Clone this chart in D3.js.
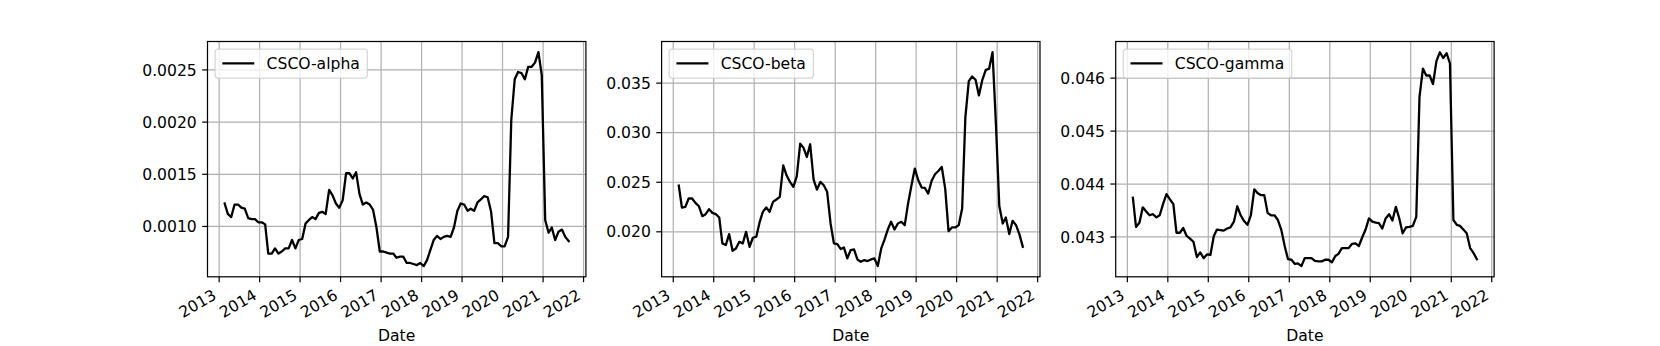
<!DOCTYPE html>
<html>
<head>
<meta charset="utf-8">
<script src="https://cdn.jsdelivr.net/npm/d3@7"></script>
<style>
  body { margin: 0; background: #fff; }
  svg { display: block; font-family: "DejaVu Sans", sans-serif; }
</style>
</head>
<body>
<div id="chart"></div>
<script>
// monthly values, Feb 2013 .. Aug 2021
var alpha = [
  0.00122, 0.00112, 0.00109, 0.00121, 0.00121, 0.00118, 0.00117, 0.00108, 0.00107, 0.00107, 0.00104,
  0.00104, 0.00102, 0.00074, 0.00074, 0.00079, 0.00074, 0.00076, 0.00079, 0.00079, 0.00087, 0.00079, 0.00087,
  0.00088, 0.00103, 0.00106, 0.00109, 0.00107, 0.00113, 0.00114, 0.00112, 0.00135, 0.00130, 0.00122, 0.00118,
  0.00125, 0.00151, 0.00151, 0.00146, 0.00152, 0.00131, 0.00121, 0.00123, 0.00121, 0.00116, 0.00099, 0.00076,
  0.00076, 0.00075, 0.00074, 0.00074, 0.00070, 0.00071, 0.00071, 0.00065, 0.00065, 0.00064, 0.00063, 0.00065,
  0.00062, 0.00068, 0.00077, 0.00087, 0.00091, 0.00088, 0.00090, 0.00091, 0.00090, 0.00099, 0.00115, 0.00122,
  0.00121, 0.00115, 0.00117, 0.00115, 0.00123, 0.00126, 0.00129, 0.00128, 0.00114, 0.00084, 0.00084, 0.00081,
  0.00081, 0.00090, 0.00202, 0.00241, 0.00248, 0.00247, 0.00241, 0.00253, 0.00253, 0.00257, 0.00267, 0.00245,
  0.00106, 0.00094, 0.00099, 0.00087, 0.00095, 0.00097, 0.00090, 0.00086
];
var beta = [
  0.02466, 0.02245, 0.02252, 0.02336, 0.02336, 0.02292, 0.02258, 0.02158, 0.02178, 0.02228, 0.02191,
  0.02178, 0.02144, 0.01883, 0.01866, 0.01977, 0.01809, 0.01832, 0.01899, 0.01883, 0.02000, 0.01849, 0.01940,
  0.01950, 0.02101, 0.02201, 0.02245, 0.02201, 0.02302, 0.02326, 0.02352, 0.02671, 0.02570, 0.02503, 0.02453,
  0.02560, 0.02889, 0.02849, 0.02755, 0.02883, 0.02527, 0.02426, 0.02503, 0.02470, 0.02403, 0.02084, 0.01883,
  0.01876, 0.01826, 0.01842, 0.01732, 0.01815, 0.01822, 0.01721, 0.01698, 0.01715, 0.01705, 0.01721, 0.01732,
  0.01654, 0.01832, 0.01916, 0.02023, 0.02101, 0.02023, 0.02084, 0.02101, 0.02067, 0.02285, 0.02470, 0.02638,
  0.02520, 0.02446, 0.02443, 0.02386, 0.02513, 0.02581, 0.02614, 0.02654, 0.02436, 0.02007, 0.02044, 0.02044,
  0.02067, 0.02235, 0.03158, 0.03520, 0.03567, 0.03534, 0.03376, 0.03534, 0.03634, 0.03644, 0.03812, 0.03100,
  0.02260, 0.02084, 0.02144, 0.01977, 0.02111, 0.02067, 0.01977, 0.01849
];
var gamma = [
  0.04374, 0.04319, 0.04327, 0.04356, 0.04348, 0.04341, 0.04343, 0.04337, 0.04341, 0.04363, 0.04381,
  0.04371, 0.04362, 0.04308, 0.04308, 0.04317, 0.04302, 0.04297, 0.04291, 0.04262, 0.04271, 0.04260, 0.04267,
  0.04266, 0.04302, 0.04314, 0.04313, 0.04312, 0.04316, 0.04318, 0.04329, 0.04358, 0.04341, 0.04330, 0.04323,
  0.04341, 0.04390, 0.04383, 0.04379, 0.04379, 0.04345, 0.04341, 0.04341, 0.04332, 0.04314, 0.04283, 0.04258,
  0.04257, 0.04249, 0.04250, 0.04245, 0.04260, 0.04260, 0.04260, 0.04255, 0.04254, 0.04254, 0.04257, 0.04257,
  0.04252, 0.04264, 0.04268, 0.04279, 0.04279, 0.04279, 0.04287, 0.04288, 0.04283, 0.04299, 0.04314, 0.04335,
  0.04329, 0.04327, 0.04326, 0.04316, 0.04335, 0.04343, 0.04331, 0.04357, 0.04335, 0.04307, 0.04318, 0.04319,
  0.04321, 0.04338, 0.04564, 0.04618, 0.04605, 0.04605, 0.04589, 0.04632, 0.04649, 0.04638, 0.04647, 0.04628,
  0.04332, 0.04323, 0.04321, 0.04314, 0.04307, 0.04279, 0.04270, 0.04258
];
var seriesNames = ["CSCO-alpha", "CSCO-beta", "CSCO-gamma"];
var yTicks = [
  [0.0010, 0.0015, 0.0020, 0.0025],
  [0.020, 0.025, 0.030, 0.035],
  [0.043, 0.044, 0.045, 0.046]
];
var yFormats = [".4f", ".3f", ".3f"];
var yearTicks = [2013, 2014, 2015, 2016, 2017, 2018, 2019, 2020, 2021, 2022];

var dates = alpha.map(function(d, i) { return new Date(2013, 1 + i, 20); });
var allSeries = [alpha, beta, gamma];

var W = 1660, H = 346;
var fs = 15.6;
var axTop = 41.5, axBottom = 276.8;
var axLefts = [207.5, 661.6, 1115.7], axWidth = 378.4;

var svg = d3.select("#chart").append("svg")
    .attr("width", W)
    .attr("height", H);

function pad(ext) {
  var p = (ext[1] - ext[0]) * 0.05;
  return [ext[0] - p, ext[1] + p];
}

allSeries.forEach(function(values, k) {
  var left = axLefts[k], right = left + axWidth;
  var g = svg.append("g");

  var xd = d3.extent(dates).map(Number);
  var x = d3.scaleTime()
    .domain(pad(xd).map(function(t) { return new Date(t); }))
    .range([left, right]);
  var y = d3.scaleLinear()
    .domain(pad(d3.extent(values)))
    .range([axBottom, axTop]);

  var xt = yearTicks.map(function(yr) { return new Date(yr, 0, 1); });

  // grid
  g.selectAll(".gx").data(xt).enter().append("line")
    .attr("x1", function(d) { return x(d); })
    .attr("x2", function(d) { return x(d); })
    .attr("y1", axTop).attr("y2", axBottom)
    .attr("stroke", "#b0b0b0").attr("stroke-width", 1.22);
  g.selectAll(".gy").data(yTicks[k]).enter().append("line")
    .attr("x1", left).attr("x2", right)
    .attr("y1", function(d) { return y(d); })
    .attr("y2", function(d) { return y(d); })
    .attr("stroke", "#b0b0b0").attr("stroke-width", 1.22);

  // the line
  g.append("path")
    .datum(values)
    .attr("fill", "none")
    .attr("stroke", "#000")
    .attr("stroke-width", 2.29)
    .attr("stroke-linejoin", "round")
    .attr("stroke-linecap", "square")
    .attr("d", d3.line()
      .x(function(d, i) { return x(dates[i]); })
      .y(function(d) { return y(d); }));

  // spines
  g.append("rect")
    .attr("x", left).attr("y", axTop)
    .attr("width", axWidth).attr("height", axBottom - axTop)
    .attr("fill", "none").attr("stroke", "#000").attr("stroke-width", 1.22);

  // x ticks
  g.selectAll(".tx").data(xt).enter().append("line")
    .attr("x1", function(d) { return x(d); })
    .attr("x2", function(d) { return x(d); })
    .attr("y1", axBottom).attr("y2", axBottom + 5.35)
    .attr("stroke", "#000").attr("stroke-width", 1.22);
  g.selectAll(".lx").data(xt).enter().append("text")
    .attr("transform", function(d) {
      return "translate(" + (x(d) - 1.8) + "," + (axBottom + 10.7 + 10.8) + ") rotate(-30)";
    })
    .attr("text-anchor", "end")
    .style("font-size", fs + "px")
    .text(function(d) { return d.getFullYear(); });

  // y ticks
  g.selectAll(".ty").data(yTicks[k]).enter().append("line")
    .attr("x1", left - 5.35).attr("x2", left)
    .attr("y1", function(d) { return y(d); })
    .attr("y2", function(d) { return y(d); })
    .attr("stroke", "#000").attr("stroke-width", 1.22);
  g.selectAll(".ly").data(yTicks[k]).enter().append("text")
    .attr("x", left - 10.7)
    .attr("y", function(d) { return y(d); })
    .attr("dy", "0.36em")
    .attr("text-anchor", "end")
    .style("font-size", fs + "px")
    .text(function(d) { return d3.format(yFormats[k])(d); });

  // x label
  g.append("text")
    .attr("x", (left + right) / 2)
    .attr("y", 340.5)
    .attr("text-anchor", "middle")
    .style("font-size", fs + "px")
    .text("Date");

  // legend
  var lx = left + 7.6, ly = axTop + 7.6;
  var frame = g.append("rect")
    .attr("x", lx).attr("y", ly)
    .attr("height", 29)
    .attr("rx", 3).attr("ry", 3)
    .attr("fill", "#fff").attr("fill-opacity", 0.8)
    .attr("stroke", "#cccccc").attr("stroke-opacity", 0.8)
    .attr("stroke-width", 1.22);
  g.append("line")
    .attr("x1", lx + 7.2).attr("x2", lx + 39.2)
    .attr("y1", ly + 14.2).attr("y2", ly + 14.2)
    .attr("stroke", "#000").attr("stroke-width", 2.29);
  var lt = g.append("text")
    .attr("x", lx + 51.5)
    .attr("y", ly + 14.5)
    .attr("dy", "0.36em")
    .style("font-size", fs + "px")
    .text(seriesNames[k]);
  frame.attr("width", 51.5 + lt.node().getComputedTextLength() + 7.5);
});
</script>
</body>
</html>
